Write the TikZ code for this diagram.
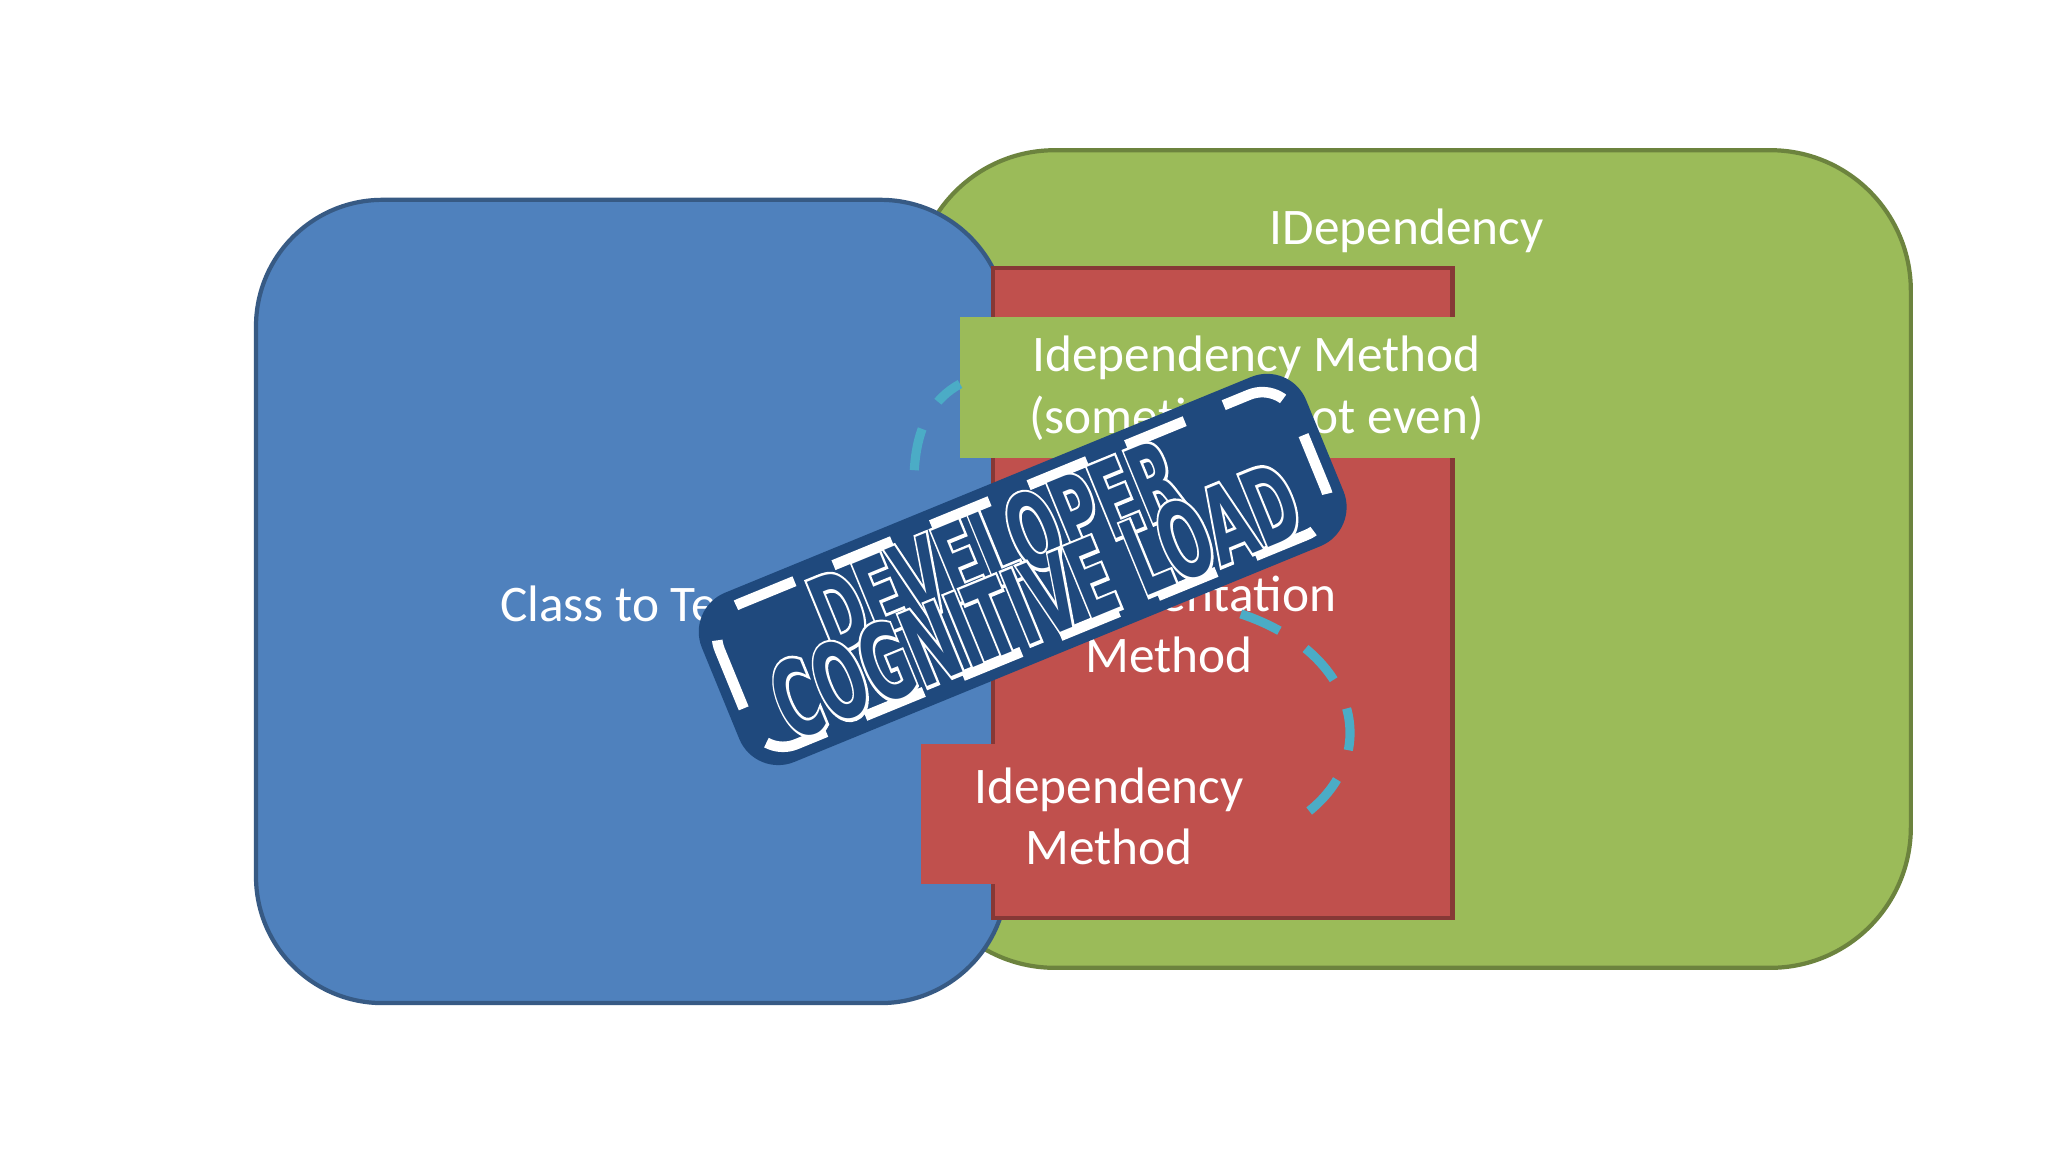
\documentclass[tikz,border=0pt]{standalone}
\usepackage{fontspec}
\setmainfont{Carlito}
\newfontfamily\stampfont{DejaVu Sans Condensed Bold}
\newfontfamily\stamphalo{DejaVu Sans Condensed Bold}[FakeBold=6]
\usepackage{tikz}
\usetikzlibrary{positioning}

\definecolor{boxblue}{HTML}{4F81BD}
\definecolor{boxgreen}{HTML}{9BBB59}
\definecolor{boxred}{HTML}{C0504D}
\definecolor{linkcyan}{HTML}{4BACC6}
\definecolor{stampblue}{HTML}{1F497D}

\tikzset{
  boxtext/.style={text=white, font=\fontsize{14.6}{17.6}\selectfont, align=center},
  link/.style={linkcyan, line width=2.6pt, dash pattern=on 12pt off 9pt},
  stampline/.style={rotate=22.3, xscale=0.62}
}

\begin{document}
\begin{tikzpicture}[x=0.01306cm, y=-0.01306cm]
    \useasboundingbox[fill=white] (0,0) rectangle (1568,882);

    % The dependency
    \draw[fill=boxgreen, draw=boxgreen!70!black, line width=1.2pt, rounded corners=40pt]
        (700,115) rectangle (1463,741);
    \node[boxtext] (idep) at (1077,177) {IDependency};

    % Class to test
    \draw[fill=boxblue, draw=boxblue!70!black, line width=1.2pt, rounded corners=36pt]
        (196,153) rectangle (771,768);
    \node[boxtext] (cls) at (480,462) {Class to Test};

    % Methods
    \draw[fill=boxred, draw=boxred!70!black, line width=1.2pt] (760,205) rectangle (1112,703);
    \fill[boxred] (705,570) rectangle (990,677);
    \fill[boxgreen] (735,243) rectangle (1140,351);
    \node[boxtext] (ifmeth) at (962,297) {Idependency Method\\(sometimes not even)};
    \node[boxtext] (implmeth) at (895,478) {Implementation\\Method};
    \node[boxtext] (depmeth) at (849,625) {Idependency\\Method};

    % Calls between methods
    \coordinate (a1) at (700,360);
    \coordinate (a2) at (735,294);
    \coordinate (b1) at (950,470);
    \coordinate (b2) at (997,625);
    \draw[link] (a1) .. controls (702,325) and (715,305) .. (a2);
    \draw[link] (b1) .. controls (1040,500) and (1060,580) .. (b2);

    % The stamp
    \begin{scope}[shift={(783,436)}, rotate=22.3]
        \fill[stampblue, rounded corners=12pt] (-250,-70) rectangle (250,70);
        \draw[white, line width=3pt, dash pattern=on 18pt off 12pt, rounded corners=10pt]
            (-238,-58) rectangle (238,58);
        \node[stampline, text=white, font=\fontsize{30}{32}\stamphalo] (devhalo) at (-12,-24) {DEVELOPER};
        \node[stampline, text=stampblue, font=\fontsize{30}{32}\stampfont] (dev) at (-12,-24) {DEVELOPER};
        \node[stampline, text=white, font=\fontsize{30}{32}\stamphalo] (coghalo) at (0,26) {COGNITIVE LOAD};
        \node[stampline, text=stampblue, font=\fontsize{30}{32}\stampfont] (cog) at (0,26) {COGNITIVE LOAD};
    \end{scope}
\end{tikzpicture}
\end{document}
